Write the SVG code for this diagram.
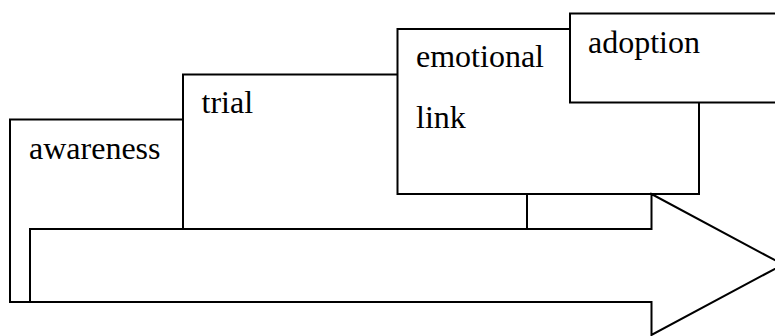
<svg xmlns="http://www.w3.org/2000/svg" width="775" height="336" viewBox="0 0 775 336">
<style>
.box{fill:#fff;stroke:#000;stroke-width:2}
.lbl{font-family:'Liberation Serif',serif;font-size:32px;fill:#000}
</style>
<rect width="775" height="336" fill="#fff"/>
<g id="awareness">
<rect class="box" x="10" y="119.5" width="173" height="182.5"/>
<text class="lbl" x="29" y="159">awareness</text>
</g>
<g id="trial">
<rect class="box" x="183" y="74.5" width="344" height="154.5"/>
<text class="lbl" x="201.5" y="113">trial</text>
</g>
<g id="emotional-link">
<rect class="box" x="397.5" y="29" width="301.5" height="165"/>
<text class="lbl" x="416" y="66.5">emotional</text>
<text class="lbl" x="416" y="127.5">link</text>
</g>
<g id="adoption">
<rect class="box" x="570" y="13.5" width="220" height="89"/>
<text class="lbl" x="588" y="53">adoption</text>
</g>
<g id="connectors">
<path class="box" d="M30,229 L651.5,229 L651.5,194 L783,264.5 L651.5,335 L651.5,302 L30,302 Z"/>
</g>
</svg>
